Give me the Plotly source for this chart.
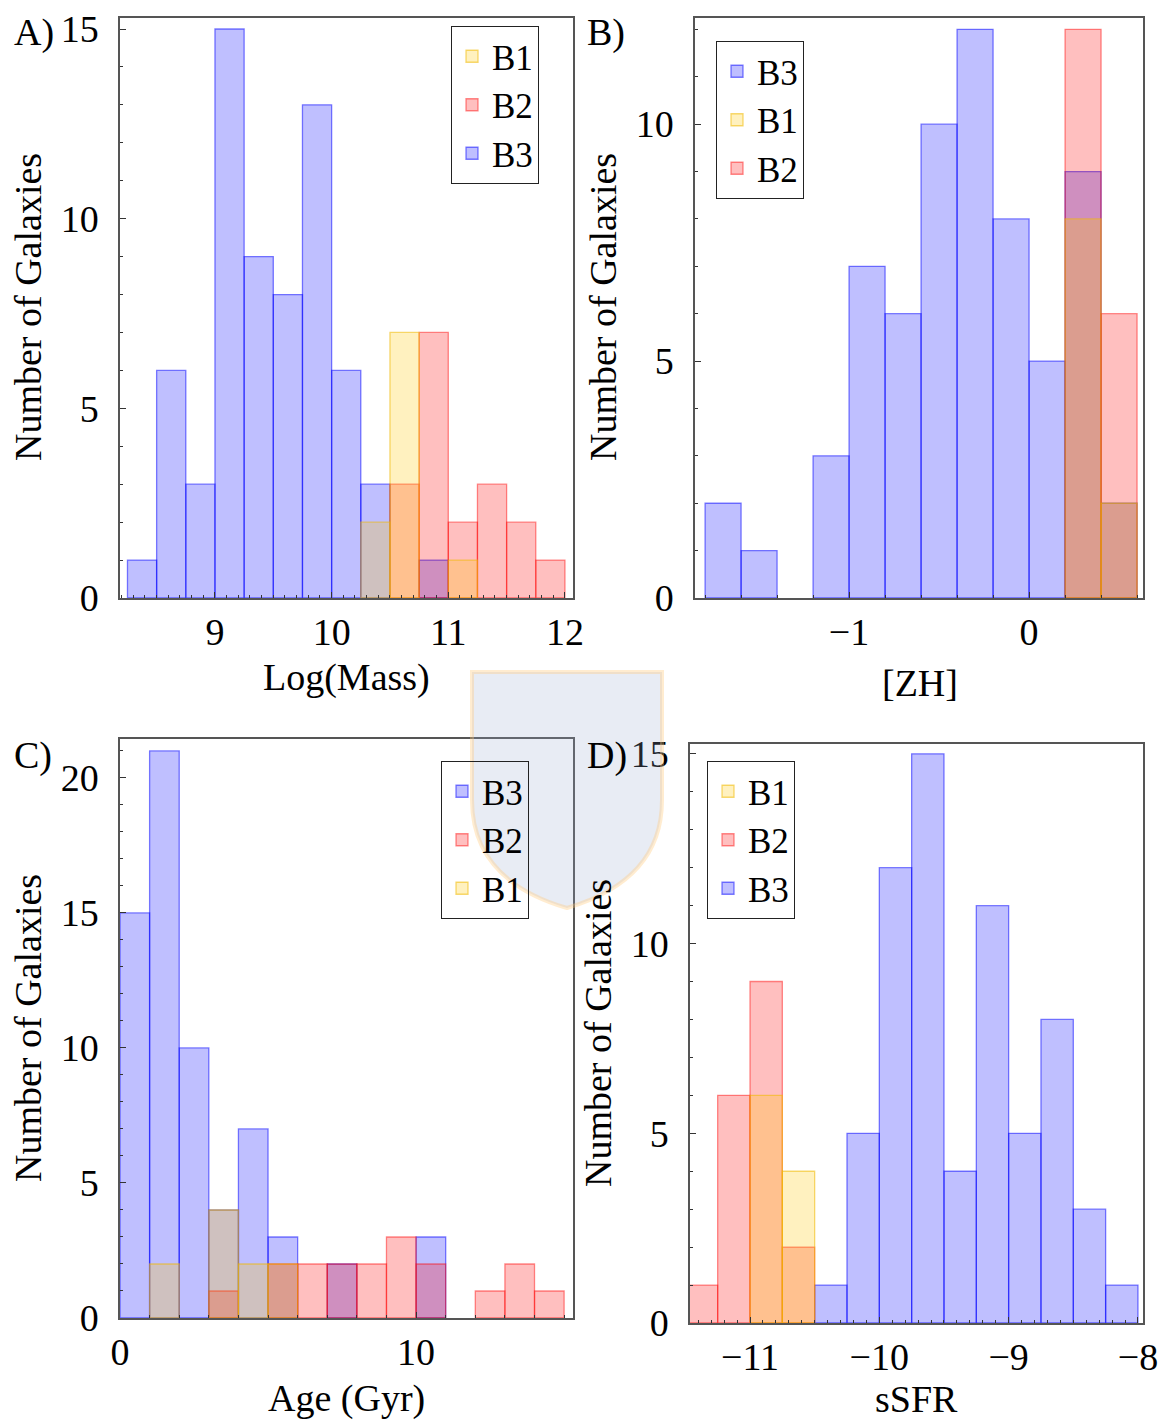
import plotly.graph_objects as go

W, H = 1167, 1421

# ---------------- data ----------------
mass_left = [8.25, 8.5, 8.75, 9.0, 9.25, 9.5, 9.75, 10.0, 10.25, 10.5, 10.75, 11.0, 11.25, 11.5, 11.75]
mass_B3 = [1, 6, 3, 15, 9, 8, 13, 6, 3, 0, 1, 0, 0, 0, 0]
mass_B2 = [0, 0, 0, 0, 0, 0, 0, 0, 0, 3, 7, 2, 3, 2, 1]
mass_B1 = [0, 0, 0, 0, 0, 0, 0, 0, 2, 7, 0, 1, 0, 0, 0]
mass_w = 0.25

zh_left = [-1.8, -1.6, -1.4, -1.2, -1.0, -0.8, -0.6, -0.4, -0.2, 0.0, 0.2, 0.4]
zh_B3 = [2, 1, 0, 3, 7, 6, 10, 12, 8, 5, 9, 2]
zh_B1 = [0, 0, 0, 0, 0, 0, 0, 0, 0, 0, 8, 2]
zh_B2 = [0, 0, 0, 0, 0, 0, 0, 0, 0, 0, 12, 6]
zh_w = 0.2

age_left = [0, 1, 2, 3, 4, 5, 6, 7, 8, 9, 10, 11, 12, 13, 14]
age_B3 = [15, 21, 10, 4, 7, 3, 0, 2, 0, 0, 3, 0, 0, 0, 0]
age_B2 = [0, 0, 0, 1, 0, 2, 2, 2, 2, 3, 2, 0, 1, 2, 1]
age_B1 = [0, 2, 0, 4, 2, 2, 0, 0, 0, 0, 0, 0, 0, 0, 0]
age_w = 1.0

ssfr_left = [-11.5, -11.25, -11.0, -10.75, -10.5, -10.25, -10.0, -9.75, -9.5, -9.25, -9.0, -8.75, -8.5, -8.25]
ssfr_B2 = [1, 6, 9, 2, 0, 0, 0, 0, 0, 0, 0, 0, 0, 0]
ssfr_B1 = [0, 0, 6, 4, 0, 0, 0, 0, 0, 0, 0, 0, 0, 0]
ssfr_B3 = [0, 0, 0, 0, 1, 5, 12, 15, 4, 11, 5, 8, 3, 1]
ssfr_w = 0.25

FONT = "Liberation Serif"
COL = {
    "B1": ("rgba(255,200,0,0.25)", "rgba(240,185,0,0.55)"),
    "B2": ("rgba(255,0,0,0.25)", "rgba(255,0,0,0.45)"),
    "B3": ("rgba(0,0,255,0.25)", "rgba(0,0,255,0.5)"),
}


def px_x(p):
    return p / W


def px_y(p):
    return 1 - p / H


fig = go.Figure()

panels = [
    ("A", mass_left, mass_w, [("B3", mass_B3), ("B2", mass_B2), ("B1", mass_B1)],
     {"B1": 1, "B2": 2, "B3": 3}, "", "legend"),
    ("B", zh_left, zh_w, [("B3", zh_B3), ("B2", zh_B2), ("B1", zh_B1)],
     {"B3": 1, "B1": 2, "B2": 3}, "2", "legend2"),
    ("C", age_left, age_w, [("B3", age_B3), ("B2", age_B2), ("B1", age_B1)],
     {"B3": 1, "B2": 2, "B1": 3}, "3", "legend3"),
    ("D", ssfr_left, ssfr_w, [("B3", ssfr_B3), ("B2", ssfr_B2), ("B1", ssfr_B1)],
     {"B1": 1, "B2": 2, "B3": 3}, "4", "legend4"),
]

for name, lefts, w, series, ranks, sfx, leg in panels:
    for sname, vals in series:
        fill, line = COL[sname]
        fig.add_trace(go.Bar(
            x=lefts, y=[v if v > 0 else None for v in vals],
            width=w, offset=0,
            marker=dict(color=fill, line=dict(color=line, width=1.3)),
            name=sname, legend=leg, legendrank=ranks[sname],
            xaxis="x" + sfx, yaxis="y" + sfx,
        ))

# panel frames in pixels: left, right, top, bottom
frames = {
    "": (120, 573, 18, 598),
    "2": (695, 1143, 18, 598),
    "3": (120, 573, 739, 1318),
    "4": (690, 1143, 744, 1323),
}
xranges = {"": [8.186, 12.069], "2": [-1.856, 0.633], "3": [0, 15.30], "4": [-11.464, -7.961]}
yranges = {"": [0, 15.29], "2": [0, 12.24], "3": [0, 21.44], "4": [0, 15.26]}
xticks = {"": ([9, 10, 11, 12], ["9", "10", "11", "12"], 0.1),
          "2": ([-1, 0], ["\u22121", "0"], 0.2),
          "3": ([0, 10], ["0", "10"], 1),
          "4": ([-11, -10, -9, -8], ["\u221211", "\u221210", "\u22129", "\u22128"], 0.1)}
yticks = {"": ([0, 5, 10, 15], 1), "2": ([0, 5, 10], 1), "3": ([0, 5, 10, 15, 20], 1), "4": ([0, 5, 10, 15], 1)}

lay = {}
for sfx, (l, r, t, b) in frames.items():
    tv, tt, mdt = xticks[sfx]
    lay["xaxis" + sfx] = dict(
        domain=[px_x(l), px_x(r)], range=xranges[sfx], anchor="y" + sfx, automargin=False,
        tickvals=tv, ticktext=tt, ticks="inside", ticklen=6, tickwidth=1, tickcolor="#333",
        minor=dict(dtick=mdt, ticks="inside", ticklen=3, tickcolor="#333"),
        showline=True, linecolor="#555", linewidth=1.5, mirror=True,
        showgrid=False, zeroline=False, ticklabelstandoff=0,
        tickfont=dict(family=FONT, size=38, color="black"),
    )
    yv, ymdt = yticks[sfx]
    lay["yaxis" + sfx] = dict(
        domain=[px_y(b), px_y(t)], range=yranges[sfx], anchor="x" + sfx, automargin=False,
        tickvals=yv, ticks="inside", ticklen=6, tickwidth=1, tickcolor="#333",
        minor=dict(dtick=ymdt, ticks="inside", ticklen=3, tickcolor="#333"),
        showline=True, linecolor="#555", linewidth=1.5, mirror=True,
        showgrid=False, zeroline=False, ticklabelstandoff=12,
        tickfont=dict(family=FONT, size=38, color="black"),
    )

legend_pos = {"legend": (451, 26), "legend2": (716, 41), "legend3": (441, 761), "legend4": (707, 761)}
for k, (lx, ly) in legend_pos.items():
    lay[k] = dict(x=px_x(lx), y=px_y(ly), xanchor="left", yanchor="top",
                  bordercolor="#222", borderwidth=1, bgcolor="rgba(255,255,255,0)",
                  font=dict(family=FONT, size=35, color="black"),
                  itemwidth=30, tracegroupgap=0, entrywidth=66)

ann = []
def text(s, x, y, size=38, angle=0, xanchor="center"):
    ann.append(dict(text=s, x=px_x(x), y=px_y(y), xref="paper", yref="paper",
                    showarrow=False, textangle=angle, xanchor=xanchor, yanchor="middle",
                    font=dict(family=FONT, size=size, color="black")))

text("Log(Mass)", 346, 678)
text("[ZH]", 920, 683)
text("Age (Gyr)", 346, 1398)
text("sSFR", 916, 1399)
text("Number of Galaxies", 28, 307, angle=-90)
text("Number of Galaxies", 603, 307, angle=-90)
text("Number of Galaxies", 28, 1028, angle=-90)
text("Number of Galaxies", 598, 1033, angle=-90)
text("A)", 12, 32, xanchor="left")
text("B)", 585, 32, xanchor="left")
text("C)", 12, 755, xanchor="left")
text("D)", 585, 755, xanchor="left")

shield = ("M {x0},{y0} L {x1},{y0} L {x1},{ym} Q {x1},{yb} {xc},{yt} Q {x0},{yb} {x0},{ym} Z").format(
    x0=px_x(472), x1=px_x(662), y0=px_y(672), ym=px_y(800), yb=px_y(880), yt=px_y(908), xc=px_x(567))
shapes = [dict(type="path", path=shield, xref="paper", yref="paper",
               fillcolor="rgba(150,170,205,0.22)", line=dict(color="rgba(255,200,120,0.35)", width=4),
               layer="above")]

fig.update_layout(
    width=W, height=H, margin=dict(l=0, r=0, t=0, b=0, autoexpand=False),
    paper_bgcolor="white", plot_bgcolor="white",
    barmode="overlay", showlegend=True,
    annotations=ann, shapes=shapes,
    font=dict(family=FONT, size=38, color="black"),
    **lay,
)

fig.write_html("out.html")
